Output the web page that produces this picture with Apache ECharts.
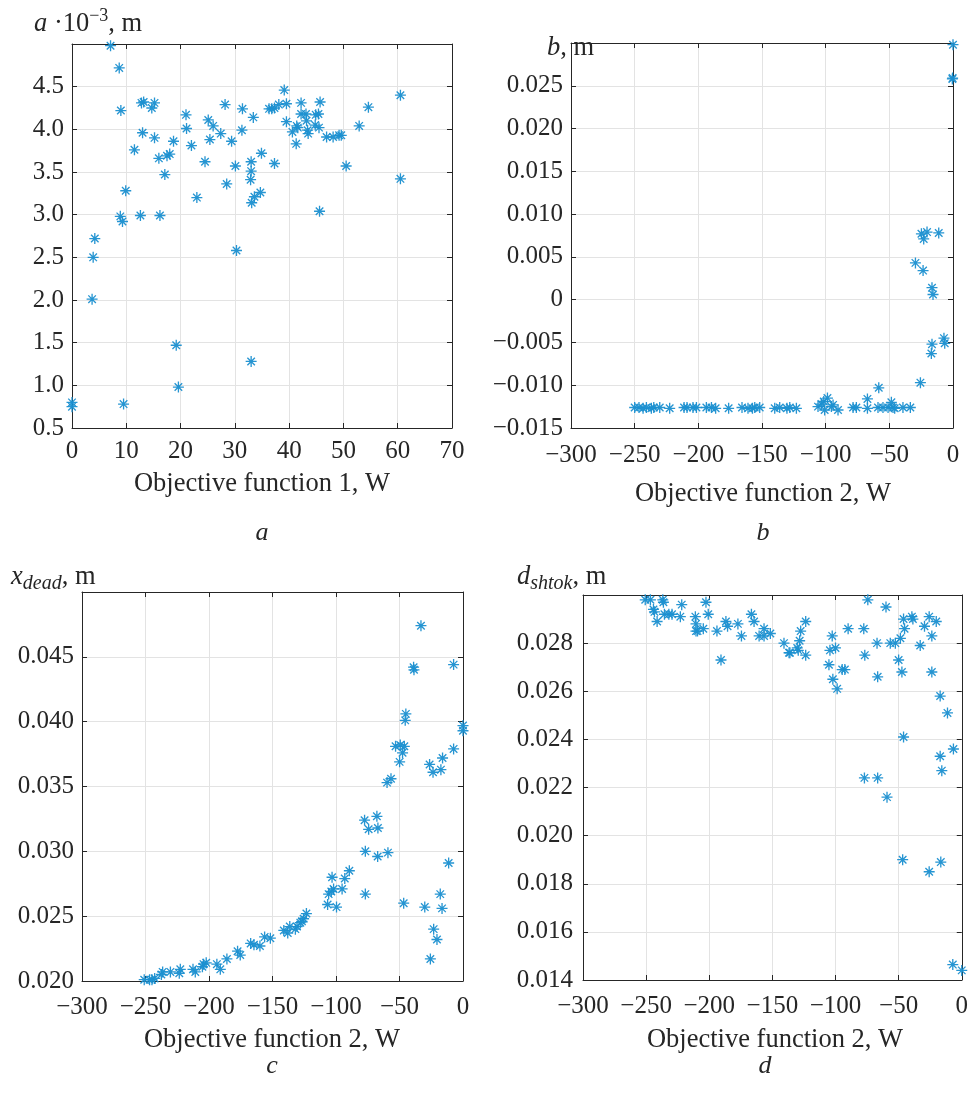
<!DOCTYPE html>
<html><head><meta charset="utf-8">
<script src="https://cdn.jsdelivr.net/npm/echarts@6/dist/echarts.min.js"></script>
<style>html,body{margin:0;padding:0;background:#fff}#c{width:971px;height:1097px}</style>
</head><body><div id="c"></div>
<script>
// ---- data ----
// Panel a: objective function 1 (W) vs a (·10^-3 m)
const pointsA = [
 [7.1,4.98],[8.7,4.72],[9.0,4.22],[12.8,4.31],[13.2,4.32],[15.2,4.31],[14.7,4.25],[21.0,4.17],[21.1,4.01],
 [25.1,4.11],[26.0,4.04],[28.2,4.29],[31.4,4.24],[33.4,4.14],[27.4,3.95],[31.3,3.99],[25.4,3.88],[29.4,3.86],
 [13.0,3.96],[15.2,3.90],[18.7,3.86],[22.0,3.81],[11.5,3.76],[16.0,3.66],[17.5,3.69],[18.0,3.71],[17.1,3.47],
 [24.5,3.62],[30.1,3.57],[33.0,3.62],[33.0,3.51],[32.9,3.41],[34.9,3.72],[37.3,3.60],[9.9,3.28],[28.5,3.36],
 [23.0,3.20],[33.1,3.14],[33.6,3.21],[34.7,3.26],[8.9,2.98],[9.3,2.92],[12.6,2.99],[16.2,2.99],
 [39.1,4.46],[36.3,4.24],[36.8,4.24],[37.3,4.25],[38.1,4.29],[39.5,4.30],[42.2,4.31],[45.7,4.32],[42.2,4.18],
 [43.1,4.18],[44.9,4.17],[45.4,4.18],[39.5,4.09],[41.4,4.04],[41.6,4.02],[40.6,3.97],[43.4,3.99],[43.5,3.95],
 [44.8,4.05],[45.5,4.02],[43.2,4.10],[46.9,3.91],[48.1,3.91],[49.2,3.93],[49.6,3.93],[41.3,3.83],[52.9,4.04],
 [54.6,4.26],[60.5,4.40],[50.5,3.57],[60.5,3.42],[45.6,3.04],
 [4.2,2.72],[3.9,2.50],[3.7,2.01],[30.3,2.58],[19.2,1.47],[33.0,1.28],[19.6,0.98],[9.5,0.78],[0,0.80],[0,0.75]
];
// Panel b: objective function 2 (W) vs b (m)
const pointsB = [
 [-250.0,-0.0126],[-246.6,-0.0126],[-243.4,-0.0127],[-240.8,-0.0126],[-236.9,-0.0127],[-235.0,-0.0126],
 [-230.3,-0.0126],[-222.5,-0.0127],[-211.2,-0.0126],[-208.9,-0.0126],[-204.2,-0.0126],[-201.5,-0.0126],
 [-193.7,-0.0126],[-189.7,-0.0126],[-186.4,-0.0127],[-176.2,-0.0127],[-165.7,-0.0126],[-161.0,-0.0127],
 [-157.5,-0.0127],[-155.7,-0.0126],[-151.8,-0.0126],[-140.0,-0.0127],[-136.1,-0.0126],[-130.4,-0.0127],
 [-128.2,-0.0126],[-123.0,-0.0127],[-106.0,-0.0125],[-78.5,-0.0126],[-75.9,-0.0126],[-67.2,-0.0127],
 [-58.9,-0.0126],[-55.0,-0.0126],[-51.0,-0.0126],[-47.1,-0.0126],[-45.8,-0.0127],[-39.3,-0.0126],[-33.5,-0.0126],
 [-103.4,-0.0122],[-101.5,-0.0119],[-98.6,-0.0115],[-100.8,-0.0129],[-94.2,-0.0123],[-90.3,-0.0129],
 [-95.5,-0.0125],[-67.2,-0.0116],[-48.4,-0.0120],[-58.3,-0.0103],[-25.6,-0.0097],[-16.5,-0.0052],
 [-17.0,-0.0063],[-7.1,-0.0045],[-6.5,-0.0051],[-16.5,0.0014],[-15.7,0.0006],[-23.5,0.0034],[-29.5,0.0043],
 [-24.8,0.0077],[-20.4,0.0079],[-23.0,0.0071],[-11.2,0.0078],[0,0.0298],[-0.5,0.0258],[-0.3,0.0259]
];
// Panel c: objective function 2 (W) vs x_dead (m)
const pointsC = [
 [-33.1,0.0474],[-38.9,0.0442],[-38.6,0.0440],[-7.4,0.0444],[-45.0,0.0406],[-45.5,0.0401],[-53.1,0.0381],
 [-49.4,0.0382],[-46.2,0.0381],[-47.6,0.0376],[-49.9,0.0369],[0,0.0397],[0,0.0393],[-7.4,0.0379],
 [-26.3,0.0367],[-23.6,0.0361],[-16.1,0.0372],[-17.4,0.0363],[-59.8,0.0353],[-56.7,0.0356],
 [-77.5,0.0324],[-67.8,0.0327],[-74.3,0.0317],[-67.0,0.0318],[-76.9,0.0300],[-67.2,0.0296],[-59.1,0.0299],
 [-11.3,0.0291],[-89.5,0.0285],[-93.1,0.0279],[-103.1,0.0280],[-95.2,0.0271],[-101.9,0.0271],[-103.7,0.0269],
 [-105.8,0.0267],[-76.9,0.0267],[-106.6,0.0259],[-99.6,0.0257],[-46.7,0.0260],[-30.1,0.0257],[-17.9,0.0267],
 [-16.5,0.0256],[-23.1,0.0240],[-20.5,0.0232],[-25.7,0.0217],[-123.3,0.0252],[-125.5,0.0248],[-126.8,0.0246],
 [-128.1,0.0245],[-130.7,0.0242],[-132.0,0.0240],[-141.1,0.0239],[-136.4,0.0242],[-138.0,0.0237],
 [-156.2,0.0234],[-151.7,0.0233],[-167.2,0.0229],[-164.6,0.0228],[-159.9,0.0227],[-177.5,0.0223],
 [-175.4,0.0220],[-185.9,0.0217],[-193.8,0.0213],[-191.1,0.0209],[-204.3,0.0213],[-202.2,0.0214],
 [-205.2,0.0211],[-212.6,0.0209],[-210.8,0.0207],[-222.6,0.0209],[-223.4,0.0206],[-230.4,0.0207],
 [-236.5,0.0207],[-237.5,0.0205],[-242.8,0.0202],[-244.9,0.0201],[-246.8,0.0201],[-251.0,0.0201]
];
// Panel d: objective function 2 (W) vs d_shtok (m)
const pointsD = [
 [-250.7,0.0298],[-246.6,0.0298],[-244.2,0.0294],[-243.4,0.0293],[-241.3,0.0289],[-236.8,0.0298],[-236.3,0.0297],
 [-235.5,0.0292],[-232.0,0.0292],[-229.5,0.0292],[-222.9,0.0291],[-221.8,0.0296],[-211.0,0.0291],[-210.5,0.0288],
 [-210.5,0.0285],[-209.3,0.0285],[-204.7,0.0286],[-202.6,0.0297],[-200.8,0.0292],[-193.9,0.0285],[-190.7,0.0273],
 [-186.8,0.0289],[-185.5,0.0287],[-177.3,0.0288],[-174.5,0.0283],[-166.6,0.0292],[-164.5,0.0289],[-160.5,0.0283],
 [-156.6,0.0283],[-156.6,0.0286],[-151.6,0.0284],[-140.8,0.0280],[-136.8,0.0276],[-136.1,0.0276],[-130.3,0.0278],
 [-129.5,0.0277],[-128.4,0.0281],[-127.6,0.0285],[-123.6,0.0289],[-123.6,0.0275],[-105.2,0.0271],[-104.4,0.0277],
 [-102.6,0.0283],[-102.1,0.0265],[-100.0,0.0278],[-98.7,0.0261],[-94.7,0.0269],[-92.6,0.0269],[-90.0,0.0286],
 [-77.6,0.0286],[-76.8,0.0275],[-74.4,0.0298],[-67.1,0.0280],[-66.6,0.0266],[-60.0,0.0295],[-56.6,0.0280],
 [-52.6,0.0280],[-48.6,0.0282],[-50.0,0.0273],[-47.4,0.0268],[-46.1,0.0290],[-45.3,0.0286],[-39.5,0.0291],
 [-38.7,0.0290],[-32.9,0.0279],[-29.5,0.0287],[-25.8,0.0291],[-23.7,0.0283],[-23.7,0.0268],[-20.2,0.0289],
 [-17.1,0.0258],[-11.3,0.0251],[-6.6,0.0236],[-17.1,0.0233],[-15.8,0.0227],[-46.1,0.0241],[-77.1,0.0224],
 [-66.6,0.0224],[-59.2,0.0216],[-46.8,0.0190],[-25.8,0.0185],[-16.6,0.0189],[-7.1,0.01464],[0,0.01440]
];

// ---- styling ----
const FONT = 'Liberation Serif';
const TXT = '#262626';
const MARK = '#1a8fd0';
const ASTERISK = 'path://M0,4.4L10,4.4L10,5.6L0,5.6Z M4.4,0L5.6,0L5.6,10L4.4,10Z M1.15,2.0L2.0,1.15L8.85,8.0L8.0,8.85Z M8.0,1.15L8.85,2.0L2.0,8.85L1.15,8.0Z';
const TICK_FS = 25, NAME_FS = 26.5;

const grids = [
  {left:72, top:44, width:380, height:384},
  {left:571, top:43, width:382, height:385},
  {left:82, top:592, width:381, height:389},
  {left:583, top:595, width:380, height:385}
];
const xMargins = [11, 15, 14, 14];
const yMargins = [8, 8, 8, 10];
const xr = [{min:0,max:70,interval:10},{min:-300,max:0,interval:50},{min:-300,max:0,interval:50},{min:-300,max:0,interval:50}];
const yr = [{min:0.5,max:5.0,interval:0.5,dec:1},{min:-0.015,max:0.030,interval:0.005,dec:3},
            {min:0.020,max:0.050,interval:0.005,dec:3},{min:0.014,max:0.030,interval:0.002,dec:3}];

function numFmt(v, dec, max){
  if (Math.abs(v - max) < 1e-9) return '';
  if (Math.abs(v) < 1e-12) return '0';
  const s = Math.abs(v).toFixed(dec);
  return (v < 0 ? '\u2212' : '') + s;
}
function xFmt(v){ if (Math.abs(v) < 1e-9) return '0'; return (v<0?'\u2212':'') + Math.abs(Math.round(v)); }

const xAxis = [], yAxis = [], series = [];
const lineStyle = {color: TXT, width: 1};
grids.forEach((g, i) => {
  const common = {gridIndex:i, type:'value', min:xr[i].min, max:xr[i].max, interval:xr[i].interval,
    axisLine:{show:true, onZero:false, lineStyle}, axisTick:{show:true, inside:true, length:5, lineStyle}};
  xAxis.push(Object.assign({}, common, {position:'bottom',
    axisLabel:{fontFamily:FONT, fontSize:TICK_FS, color:TXT, margin:xMargins[i], formatter:xFmt},
    splitLine:{show:true, lineStyle:{color:'#e3e3e3', width:1}}}));
  xAxis.push(Object.assign({}, common, {position:'top', axisLabel:{show:false}, splitLine:{show:false}}));
  const ycommon = {gridIndex:i, type:'value', min:yr[i].min, max:yr[i].max, interval:yr[i].interval,
    axisLine:{show:true, onZero:false, lineStyle}, axisTick:{show:true, inside:true, length:5, lineStyle}};
  yAxis.push(Object.assign({}, ycommon, {position:'left',
    axisLabel:{fontFamily:FONT, fontSize:TICK_FS, color:TXT, margin:yMargins[i], formatter:(v)=>numFmt(v, yr[i].dec, yr[i].max)},
    splitLine:{show:true, lineStyle:{color:'#e3e3e3', width:1}}}));
  yAxis.push(Object.assign({}, ycommon, {position:'right', axisLabel:{show:false}, splitLine:{show:false}}));
});
[pointsA, pointsB, pointsC, pointsD].forEach((pts, i) => {
  series.push({type:'scatter', xAxisIndex:2*i, yAxisIndex:2*i, data:pts, symbol:ASTERISK, symbolSize:11,
    itemStyle:{color:MARK, opacity:0.95}, silent:true, animation:false});
});

function txt(x, y, text, rich, align){
  return {type:'text', x:x, y:y, silent:true, style:{text:text, fill:TXT, font:NAME_FS + 'px "' + FONT + '"',
    align: align || 'left', verticalAlign:'middle', rich: rich || {}}};
}
const richSup = {
  n:{fontFamily:FONT, fontSize:NAME_FS, color:TXT, lineHeight:34, verticalAlign:'middle'},
  i:{fontFamily:FONT, fontSize:NAME_FS, color:TXT, fontStyle:'italic', lineHeight:34, verticalAlign:'middle'},
  s:{fontFamily:FONT, fontSize:18, color:TXT, verticalAlign:'top'},
  b:{fontFamily:FONT, fontSize:20, color:TXT, fontStyle:'italic', verticalAlign:'bottom'}
};
const graphic = [
  txt(34, 24, '{i|a}{n| ·10}{s|\u22123}{n|, m}', richSup),
  txt(547, 48, '{i|b}{n|, m}', richSup),
  txt(11, 577, '{i|x}{b|dead}{n|, m}', richSup),
  txt(517, 577, '{i|d}{b|shtok}{n|, m}', richSup),
  txt(262, 484, 'Objective function 1, W', null, 'center'),
  txt(763, 494, 'Objective function 2, W', null, 'center'),
  txt(272, 1040, 'Objective function 2, W', null, 'center'),
  txt(775, 1040, 'Objective function 2, W', null, 'center'),
  {type:'text', x:262, y:533, silent:true, style:{text:'a', fill:TXT, font:'italic 26px "'+FONT+'"', align:'center', verticalAlign:'middle'}},
  {type:'text', x:763, y:533, silent:true, style:{text:'b', fill:TXT, font:'italic 26px "'+FONT+'"', align:'center', verticalAlign:'middle'}},
  {type:'text', x:272, y:1066, silent:true, style:{text:'c', fill:TXT, font:'italic 26px "'+FONT+'"', align:'center', verticalAlign:'middle'}},
  {type:'text', x:765, y:1066, silent:true, style:{text:'d', fill:TXT, font:'italic 26px "'+FONT+'"', align:'center', verticalAlign:'middle'}}
];

const chart = echarts.init(document.getElementById('c'), null, {renderer:'canvas'});
chart.setOption({backgroundColor:'#fff', animation:false, grid:grids, xAxis, yAxis, series, graphic});
</script></body></html>
